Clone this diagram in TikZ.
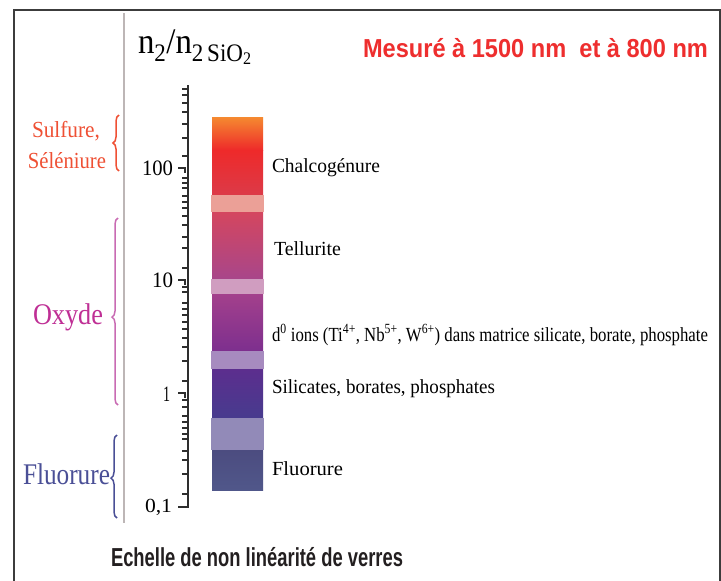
\documentclass[tikz,border=0pt]{standalone}
\usepackage{fontspec}
\setmainfont{Liberation Serif}
\newfontfamily\capsans{Liberation Sans}
\usepackage{graphicx}
\usetikzlibrary{decorations.pathreplacing}
\definecolor{framec}{HTML}{3C3C3C}
\definecolor{graylc}{HTML}{BDB6B6}
\definecolor{axisc}{HTML}{2E2E2E}
\definecolor{redt}{HTML}{EE2E2E}
\definecolor{capc}{HTML}{231F20}
\definecolor{sulc}{HTML}{EF5034}
\definecolor{oxc}{HTML}{BF2F95}
\definecolor{oxbr}{HTML}{C96BB3}
\definecolor{flc}{HTML}{4A4F96}
\definecolor{c1a}{HTML}{F58A30}
\definecolor{c1b}{HTML}{EE2A2A}
\definecolor{c1c}{HTML}{DC3A48}
\definecolor{c2}{HTML}{EBA097}
\definecolor{c3a}{HTML}{D4465F}
\definecolor{c3b}{HTML}{BE4F8A}
\definecolor{c3c}{HTML}{A8468A}
\definecolor{c4}{HTML}{D09DC0}
\definecolor{c5a}{HTML}{A3408C}
\definecolor{c5b}{HTML}{7D2F8E}
\definecolor{c6}{HTML}{A78BBF}
\definecolor{c7a}{HTML}{5C2E8E}
\definecolor{c7b}{HTML}{473B8E}
\definecolor{c8}{HTML}{928AB8}
\definecolor{c9a}{HTML}{4C4C80}
\definecolor{c9b}{HTML}{50578A}
\newlength\fitlen
\newcommand\fitto[2]{\settowidth\fitlen{#2}\scalebox{\fpeval{#1/\fitlen}}[1]{#2}}
\newcommand\fs[1]{\fontsize{#1}{#1}\selectfont}
\begin{document}
\begin{tikzpicture}[x=1pt,y=-1pt,
  lbl/.style={inner sep=0pt,outer sep=0pt,anchor=base west},
  lblr/.style={inner sep=0pt,outer sep=0pt,anchor=base east},
  mintick/.style={draw=axisc,line width=1.5pt},
  majtick/.style={draw=axisc,line width=1.9pt},
  bracestyle/.style={decorate,decoration={brace,amplitude=6pt,aspect=#1},line width=1.5pt}]
\fill[white] (0,0) rectangle (721,581);
\useasboundingbox (0,0) rectangle (721,581);
% frame
\draw[framec,line width=1.4pt] (14,583) -- (14,10) -- (720,10) -- (720,583);
% grey separator
\draw[graylc,line width=2pt] (124,13) -- (124,523);
% bar
\shade[top color=c1a,bottom color=c1b] (212,117) rectangle (263,150);
\shade[top color=c1b,bottom color=c1c] (212,150) rectangle (263,195);
\fill[c2] (211,195) rectangle (264,212);
\shade[top color=c3a,middle color=c3b,bottom color=c3c] (212,212) rectangle (263,279);
\fill[c4] (211,279) rectangle (264,294);
\shade[top color=c5a,bottom color=c5b] (212,294) rectangle (263,351);
\fill[c6] (211,351) rectangle (264,369);
\shade[top color=c7a,bottom color=c7b] (212,369) rectangle (263,418);
\fill[c8] (211,418) rectangle (264,450);
\shade[top color=c9a,bottom color=c9b] (212,450) rectangle (263,490);
% axis
\draw[axisc,line width=2.2pt] (188,85) -- (188,508);
\foreach \y in {89,95,103,112,124,138,156,178,183,188,196,202,208,216,225,237,248,268,287,292,303,309,315,322,329,338,347,361,381,400,407,416,422,428,434,439,451,460,474,494}
  \draw[mintick] (182,\y) -- (188,\y);
\foreach \y in {168,280,393}
  \draw[majtick] (178,\y) -- (185,\y) -- (185,\y+5);
\draw[majtick] (178,507) -- (188,507);
% tick labels
\node[lblr] (t100) at (173,175) {\fitto{31}{\fs{22}100}};
\node[lblr] (t10) at (173,287) {\fitto{21}{\fs{22}10}};
\node[lblr] (t1) at (170,401) {\fitto{7}{\fs{22}1}};
\node[lblr] (t01) at (172,512) {\fitto{27}{\fs{20}0,1}};
% header
\node[lbl] (ratio) at (138,53) {\fitto{114}{\fs{36}n\textsubscript{2}/n\textsubscript{2\,SiO\textsubscript{2}}}};
\node[lbl,text=redt] (mes) at (363,57) {\fitto{345}{\capsans\bfseries\fs{26}Mesuré à 1500 nm\ \ et à 800 nm}};
% caption
\node[lbl,text=capc] (cap) at (111,566) {\fitto{292}{\capsans\bfseries\fs{26}Echelle de non linéarité de verres}};
% right labels
\node[lbl] (chal) at (272,172) {\fitto{108}{\fs{20}Chalcogénure}};
\node[lbl] (tell) at (274,255) {\fitto{67}{\fs{20}Tellurite}};
\node[lbl] (dions) at (272,341) {\fitto{436}{\fs{20}d\textsuperscript{0} ions (Ti\textsuperscript{4+}, Nb\textsuperscript{5+}, W\textsuperscript{6+}) dans matrice silicate, borate, phosphate}};
\node[lbl] (silic) at (272,393) {\fitto{223}{\fs{20}Silicates, borates, phosphates}};
\node[lbl] (fluor) at (272,475) {\fitto{71}{\fs{20}Fluorure}};
% left labels
\node[lblr,text=sulc] (sulf) at (100,137) {\fitto{68}{\fs{23}Sulfure,}};
\node[lblr,text=sulc] (sel) at (106,168) {\fitto{78}{\fs{23}Séléniure}};
\node[lblr,text=oxc] (oxy) at (103,324) {\fitto{70}{\fs{30}Oxyde}};
\node[lblr,text=flc] (flu) at (110,484) {\fitto{87}{\fs{30}Fluorure}};
% braces
\coordinate (sb) at (119,171); \coordinate (st) at (119,115);
\coordinate (ob) at (118,405); \coordinate (ot) at (118,218);
\coordinate (fb) at (117,518); \coordinate (ft) at (117,435);
\draw[sulc,bracestyle=0.5] (sb) -- (st);
\draw[oxbr,bracestyle=0.47] (ob) -- (ot);
\draw[flc,bracestyle=0.48] (fb) -- (ft);
\end{tikzpicture}
\end{document}
